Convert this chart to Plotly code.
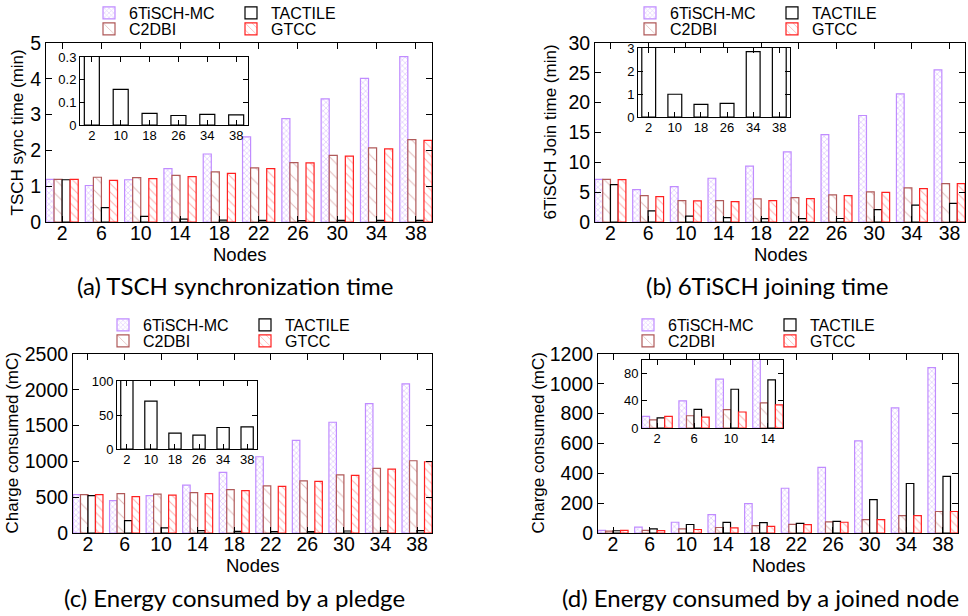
import plotly.graph_objects as go

W, H = 968, 616

# ---------------- data ----------------
nodes = [2, 6, 10, 14, 18, 22, 26, 30, 34, 38]
inset_nodes = [2, 10, 18, 26, 34, 38]
inset_nodes_d = [2, 6, 10, 14]
series_names = ["6TiSCH-MC", "C2DBI", "TACTILE", "GTCC"]

# (a) TSCH synchronization time (min)
sync_6tisch = [1.19, 1.02, 1.18, 1.49, 1.90, 2.38, 2.89, 3.44, 4.01, 4.62]
sync_c2dbi = [1.19, 1.25, 1.24, 1.30, 1.40, 1.51, 1.66, 1.86, 2.07, 2.30]
sync_tactile = [1.18, 0.40, 0.157, 0.08, 0.051, 0.045, 0.042, 0.045, 0.047, 0.045]
sync_gtcc = [1.19, 1.16, 1.21, 1.27, 1.36, 1.49, 1.65, 1.84, 2.04, 2.28]

# (b) 6TiSCH joining time (min)
join_6tisch = [7.16, 5.43, 5.93, 7.33, 9.35, 11.75, 14.66, 17.85, 21.49, 25.5]
join_c2dbi = [7.16, 4.42, 3.58, 3.58, 3.86, 4.08, 4.53, 5.04, 5.71, 6.43]
join_tactile = [6.27, 1.85, 0.99, 0.73, 0.55, 0.56, 0.59, 2.07, 2.84, 3.13]
join_gtcc = [7.10, 4.25, 3.53, 3.41, 3.58, 3.92, 4.42, 4.98, 5.60, 6.43]

# (c) Energy consumed by a pledge (mC)
pledge_6tisch = [537, 453, 523, 668, 846, 1065, 1294, 1547, 1808, 2084]
pledge_c2dbi = [537, 551, 542, 565, 607, 659, 729, 813, 902, 1009]
pledge_tactile = [523, 173, 70.4, 33, 23.3, 21, 20.4, 28, 31.6, 32.5]
pledge_gtcc = [537, 509, 528, 551, 593, 650, 720, 804, 893, 995]

# (d) Energy consumed by a joined node (mC)
joined_6tisch = [17, 40, 72, 123, 197, 300, 440, 617, 839, 1108]
joined_c2dbi = [12, 18, 27, 37, 49, 58, 74, 90, 117, 144]
joined_tactile = [15, 27.5, 57, 70.7, 70, 65, 78, 224, 332, 379]
joined_gtcc = [17, 16, 23.5, 34, 45, 56, 72, 90, 117, 144]

# ---------------- styles ----------------
TICK_FONT = "Liberation Sans, Arial, sans-serif"
CAP_FONT = "Lato, Open Sans, sans-serif"

styles = {
    "6TiSCH-MC": dict(line="#c08cff", shape="x", fg="#c49cff", size=4, solidity=0.35),
    "C2DBI": dict(line="#b05a5a", shape="\\", fg="#c27878", size=10, solidity=0.1),
    "TACTILE": dict(line="#000000", shape="", fg="#000000", size=8, solidity=0.1),
    "GTCC": dict(line="#ff2020", shape="\\", fg="#ff6060", size=6, solidity=0.17),
}


def px_x(x0, x1):
    return [x0 / W, x1 / W]


def px_y(y0, y1):
    return [1 - y1 / H, 1 - y0 / H]


panels = [
    dict(
        values=[sync_6tisch, sync_c2dbi, sync_tactile, sync_gtcc],
        box=(46, 432, 43, 222), yrange=[0, 5], dtick=1,
        inset_box=(80, 248, 57, 125), inset_yrange=[0, 0.3], inset_ticks=[0, 0.1, 0.2, 0.3],
        inset_type="single", inset_bar=0.52,
        ytitle="TSCH sync time (min)", ytitle_x=17,
        caption="(a) TSCH synchronization time", cap_x=235, cap_y=285,
        leg_x=98, leg_y=(13, 29),
    ),
    dict(
        values=[join_6tisch, join_c2dbi, join_tactile, join_gtcc],
        box=(595, 965, 43, 222), yrange=[0, 30], dtick=5,
        inset_box=(638, 790, 48, 117), inset_yrange=[0, 3], inset_ticks=[0, 1, 2, 3],
        inset_type="single", inset_bar=0.53,
        ytitle="6TiSCH Join time (min)", ytitle_x=550,
        caption="(b) 6TiSCH joining time", cap_x=767, cap_y=285,
        leg_x=639, leg_y=(13, 29),
    ),
    dict(
        values=[pledge_6tisch, pledge_c2dbi, pledge_tactile, pledge_gtcc],
        box=(73, 432, 354, 533), yrange=[0, 2500], dtick=500,
        inset_box=(117, 257, 381, 449), inset_yrange=[0, 100], inset_ticks=[0, 50, 100],
        inset_type="single", inset_bar=0.51,
        ytitle="Charge consumed (mC)", ytitle_x=12,
        caption="(c) Energy consumed by a pledge", cap_x=234, cap_y=597,
        leg_x=112, leg_y=(325, 341),
    ),
    dict(
        values=[joined_6tisch, joined_c2dbi, joined_tactile, joined_gtcc],
        box=(598, 958, 354, 533), yrange=[0, 1200], dtick=200,
        inset_box=(642, 783, 360, 428), inset_yrange=[0, 100], inset_ticks=[0, 40, 80],
        inset_type="group", inset_bar=None,
        ytitle="Charge consumed (mC)", ytitle_x=538,
        caption="(d) Energy consumed by a joined node", cap_x=760, cap_y=597,
        leg_x=637, leg_y=(325, 341),
    ),
]

fig = go.Figure()
annotations = []
layout = dict(
    width=W, height=H, margin=dict(l=0, r=0, t=0, b=0, autoexpand=False),
    paper_bgcolor="white", plot_bgcolor="white",
    barmode="group", bargap=0.18, bargroupgap=0,
    showlegend=True,
)


def axis_common(size):
    return dict(
        showline=True, linecolor="black", linewidth=1, mirror="allticks",
        ticks="inside", ticklen=6 if size > 15 else 5, tickcolor="black", tickwidth=1,
        showgrid=False, zeroline=False,
        tickfont=dict(family=TICK_FONT, size=size, color="black"),
    )


def bar_marker(name):
    st = styles[name]
    m = dict(color="white", line=dict(color=st["line"], width=1.2))
    if st["shape"]:
        m["pattern"] = dict(shape=st["shape"], fgcolor=st["fg"], bgcolor="white",
                            size=st["size"], solidity=st["solidity"])
    return m


for i, p in enumerate(panels):
    k = i + 1
    ki = i + 5
    xs = [str(n) for n in nodes]
    leg1 = "legend" if i == 0 else f"legend{2 * i + 1}"
    leg2 = f"legend{2 * i + 2}"
    for s, name in enumerate(series_names):
        fig.add_trace(go.Bar(
            x=xs, y=p["values"][s], name=name,
            xaxis=f"x{k}" if k > 1 else "x", yaxis=f"y{k}" if k > 1 else "y",
            marker=bar_marker(name),
            legend=leg1 if name in ("6TiSCH-MC", "TACTILE") else leg2,
            showlegend=True,
        ))

    # inset
    if p["inset_type"] == "single":
        ins_x = [str(n) for n in inset_nodes]
        tact = p["values"][2]
        ins_y = [tact[nodes.index(n)] for n in inset_nodes]
        fig.add_trace(go.Bar(
            x=ins_x, y=ins_y, name="TACTILE", xaxis=f"x{ki}", yaxis=f"y{ki}",
            marker=bar_marker("TACTILE"), width=p["inset_bar"], offset=-p["inset_bar"] / 2,
            showlegend=False,
        ))
        n_ins = len(inset_nodes)
    else:
        ins_x = [str(n) for n in inset_nodes_d]
        for s, name in enumerate(series_names):
            fig.add_trace(go.Bar(
                x=ins_x, y=[p["values"][s][nodes.index(n)] for n in inset_nodes_d],
                name=name, xaxis=f"x{ki}", yaxis=f"y{ki}",
                marker=bar_marker(name), showlegend=False,
            ))
        n_ins = len(inset_nodes_d)

    x0, x1, y0, y1 = p["box"]
    xa = axis_common(19.5)
    xa.update(domain=px_x(x0, x1), anchor=f"y{k}" if k > 1 else "y", type="category",
              range=[-0.41, len(nodes) - 1 + 0.41], fixedrange=True,
              ticklabelstandoff=-6)
    ya = axis_common(19.5)
    ya.update(domain=px_y(y0, y1), anchor=f"x{k}" if k > 1 else "x", range=p["yrange"],
              dtick=p["dtick"], tick0=0)
    layout["xaxis" if k == 1 else f"xaxis{k}"] = xa
    layout["yaxis" if k == 1 else f"yaxis{k}"] = ya

    ix0, ix1, iy0, iy1 = p["inset_box"]
    ixa = axis_common(13)
    ixa.update(domain=px_x(ix0, ix1), anchor=f"y{ki}", type="category",
               range=[-0.41, n_ins - 1 + 0.41], ticklabelstandoff=-2)
    iya = axis_common(13)
    iya.update(domain=px_y(iy0, iy1), anchor=f"x{ki}", range=p["inset_yrange"],
               tickvals=p["inset_ticks"])
    layout[f"xaxis{ki}"] = ixa
    layout[f"yaxis{ki}"] = iya

    # legends (two rows)
    for lk, ly in ((leg1, p["leg_y"][0]), (leg2, p["leg_y"][1])):
        layout[lk] = dict(
            orientation="h", x=(p["leg_x"] - 9) / W, y=1 - ly / H,
            xanchor="left", yanchor="middle",
            font=dict(family=TICK_FONT, size=16, color="black"),
            entrywidth=97, entrywidthmode="pixels", itemwidth=30,
            bgcolor="rgba(0,0,0,0)", borderwidth=0, tracegroupgap=0,
        )

    # y title
    annotations.append(dict(
        text=p["ytitle"], x=p["ytitle_x"] / W, y=1 - (y0 + y1) / 2 / H,
        xref="paper", yref="paper", showarrow=False, textangle=-90,
        xanchor="center", yanchor="middle",
        font=dict(family=TICK_FONT, size=17, color="black"),
    ))
    # x title
    annotations.append(dict(
        text="Nodes", x=(x0 + x1) / 2 / W, y=1 - (y1 + 32) / H,
        xref="paper", yref="paper", showarrow=False,
        xanchor="center", yanchor="middle",
        font=dict(family=TICK_FONT, size=18.5, color="black"),
    ))
    # caption
    annotations.append(dict(
        text=p["caption"], x=p["cap_x"] / W, y=1 - p["cap_y"] / H,
        xref="paper", yref="paper", showarrow=False,
        xanchor="center", yanchor="middle",
        font=dict(family=CAP_FONT, size=24, color="black"),
    ))

layout["annotations"] = annotations
fig.update_layout(**layout)
fig.write_html(
    "out.html",
    config={"displayModeBar": False},
    post_script="document.body.style.margin='0';document.body.style.overflow='hidden';",
)
